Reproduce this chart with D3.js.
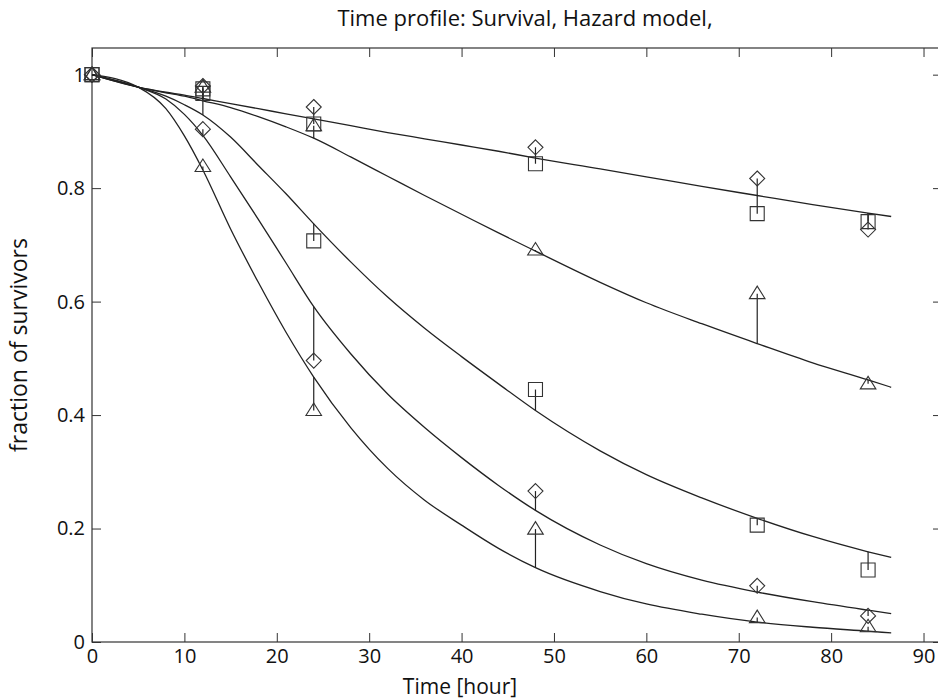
<!DOCTYPE html>
<html>
<head>
<meta charset="utf-8">
<script src="https://cdn.jsdelivr.net/npm/d3@7"></script>
<style>
  body { margin: 0; background: #fff; }
  text { font-family: "Open Sans", "Noto Sans", sans-serif; fill: #111; }
</style>
</head>
<body>
<div class="chart"></div>
<script>
// model curves
var curveTimes = [0, 5, 8, 10, 12, 15, 18, 21, 24, 28, 32, 36, 40, 44, 48, 55, 60, 66, 72, 78, 84, 86.5]
var curveA = [1, 0.978, 0.969, 0.964, 0.958, 0.949, 0.940, 0.931, 0.922, 0.910, 0.898, 0.887, 0.876, 0.865, 0.853, 0.834, 0.820, 0.803, 0.787, 0.771, 0.756, 0.750]
var curveB = [1, 0.978, 0.968, 0.962, 0.954, 0.942, 0.926, 0.908, 0.888, 0.855, 0.821, 0.787, 0.754, 0.721, 0.689, 0.634, 0.598, 0.561, 0.526, 0.492, 0.462, 0.449]
var curveC = [1, 0.978, 0.962, 0.947, 0.929, 0.890, 0.840, 0.790, 0.737, 0.670, 0.608, 0.553, 0.503, 0.455, 0.408, 0.337, 0.295, 0.254, 0.218, 0.186, 0.159, 0.149]
var curveD = [1, 0.978, 0.957, 0.930, 0.893, 0.820, 0.745, 0.668, 0.591, 0.508, 0.437, 0.378, 0.325, 0.276, 0.232, 0.171, 0.138, 0.109, 0.088, 0.071, 0.056, 0.050]
var curveE = [1, 0.978, 0.940, 0.892, 0.832, 0.728, 0.634, 0.546, 0.467, 0.378, 0.306, 0.250, 0.206, 0.165, 0.131, 0.089, 0.067, 0.049, 0.035, 0.026, 0.019, 0.016]

// measured survival fractions
var obsTimes = [0, 12, 24, 48, 72, 84]
var diamondA = [1.0, 0.980, 0.943, 0.872, 0.817, 0.727]
var squareA = [1.0, 0.975, 0.913, 0.843, 0.755, 0.741]
var triangleB = [1.0, 0.978, 0.910, 0.691, 0.614, 0.455]
var squareC = [1.0, 0.967, 0.707, 0.445, 0.206, 0.127]
var diamondD = [1.0, 0.904, 0.496, 0.266, 0.099, 0.046]
var triangleE = [1.0, 0.838, 0.408, 0.199, 0.043, 0.027]

var xTicks = [0, 10, 20, 30, 40, 50, 60, 70, 80, 90]
var yTicks = [0, 0.2, 0.4, 0.6, 0.8, 1]
var yTickLabels = ['0', '0.2', '0.4', '0.6', '0.8', '1']

var W = 938, H = 699
var margin = {top: 48, right: -4, bottom: 57, left: 92}
var pw = W - margin.left - margin.right,
    ph = H - margin.top - margin.bottom

var svg = d3.select('.chart').append('svg')
    .attr('width', W)
    .attr('height', H)

var g = svg.append('g').attr('transform', 'translate(' + margin.left + ',' + margin.top + ')')

var x = d3.scaleLinear().domain([0, 92]).range([0, pw])
var y = d3.scaleLinear().domain([0, 1.047]).range([ph, 0])

var curves = [curveA, curveB, curveC, curveD, curveE]
var sets = [
    {shape: 'diamond', vals: diamondA, fit: curveA},
    {shape: 'square', vals: squareA, fit: curveA},
    {shape: 'triangle', vals: triangleB, fit: curveB},
    {shape: 'square', vals: squareC, fit: curveC},
    {shape: 'diamond', vals: diamondD, fit: curveD},
    {shape: 'triangle', vals: triangleE, fit: curveE}
]

// axes, ticks pointing inwards like matlab
var xAxis = g.append('g').attr('transform', 'translate(0,' + ph + ')')
    .call(d3.axisBottom(x).tickValues(xTicks).tickSize(-9).tickPadding(4))
var xTop = g.append('g')
    .call(d3.axisTop(x).tickValues(xTicks).tickSize(-9).tickFormat(''))
var yAxis = g.append('g')
    .call(d3.axisLeft(y).tickValues(yTicks).tickSize(-9).tickPadding(7).tickFormat((d, i) => yTickLabels[i]))
var yRight = g.append('g').attr('transform', 'translate(' + pw + ',0)')
    .call(d3.axisRight(y).tickValues(yTicks).tickSize(-9).tickFormat(''))

g.selectAll('.domain').remove()
g.selectAll('.tick line').attr('stroke', '#333').attr('stroke-width', 1)
g.selectAll('.tick text').style('font-size', '20px').attr('fill', '#111')
xAxis.selectAll('.tick text').attr('dy', '0.85em')

g.append('rect')
    .attr('width', pw).attr('height', ph)
    .attr('fill', 'none').attr('stroke', '#333').attr('stroke-width', 1.2)

// fitted curves
var line = d3.line()
    .x((d, i) => x(curveTimes[i]))
    .y(d => y(d))
    .curve(d3.curveMonotoneX)

g.selectAll('.fit')
    .data(curves)
    .enter()
    .append('path')
    .attr('class', 'fit')
    .attr('d', line)
    .attr('fill', 'none')
    .attr('stroke', '#222')
    .attr('stroke-width', 1.3)

// residual sticks from data to model
sets.forEach(function(s) {
    var res = s.vals.map((v, i) => ({t: obsTimes[i], v: v, m: s.fit[curveTimes.indexOf(obsTimes[i])]}))
    g.selectAll(null)
        .data(res)
        .enter()
        .append('line')
        .attr('x1', d => x(d.t)).attr('x2', d => x(d.t))
        .attr('y1', d => y(d.v)).attr('y2', d => y(d.m))
        .attr('stroke', '#222')
        .attr('stroke-width', 1.2)
})

function markerPath(shape) {
    if (shape == 'square') return 'M-7,-7H7V7H-7Z'
    if (shape == 'diamond') return 'M0,-7.5L7.5,0L0,7.5L-7.5,0Z'
    return 'M0,-7.5L7.8,5L-7.8,5Z'
}

sets.forEach(function(s) {
    g.selectAll(null)
        .data(s.vals)
        .enter()
        .append('path')
        .attr('transform', (d, i) => 'translate(' + x(obsTimes[i]) + ',' + y(d) + ')')
        .attr('d', markerPath(s.shape))
        .attr('fill', 'none')
        .attr('stroke', '#333')
        .attr('stroke-width', 1.1)
})

// labels
svg.append('text')
    .attr('x', 525).attr('y', 26)
    .attr('text-anchor', 'middle')
    .style('font-size', '22px')
    .text('Time profile: Survival, Hazard model,')

svg.append('text')
    .attr('x', 460).attr('y', 694)
    .attr('text-anchor', 'middle')
    .style('font-size', '21px')
    .text('Time [hour]')

svg.append('text')
    .attr('transform', 'translate(27,' + (margin.top + ph / 2) + ') rotate(-90)')
    .attr('text-anchor', 'middle')
    .style('font-size', '23px')
    .text('fraction of survivors')
</script>
</body>
</html>
